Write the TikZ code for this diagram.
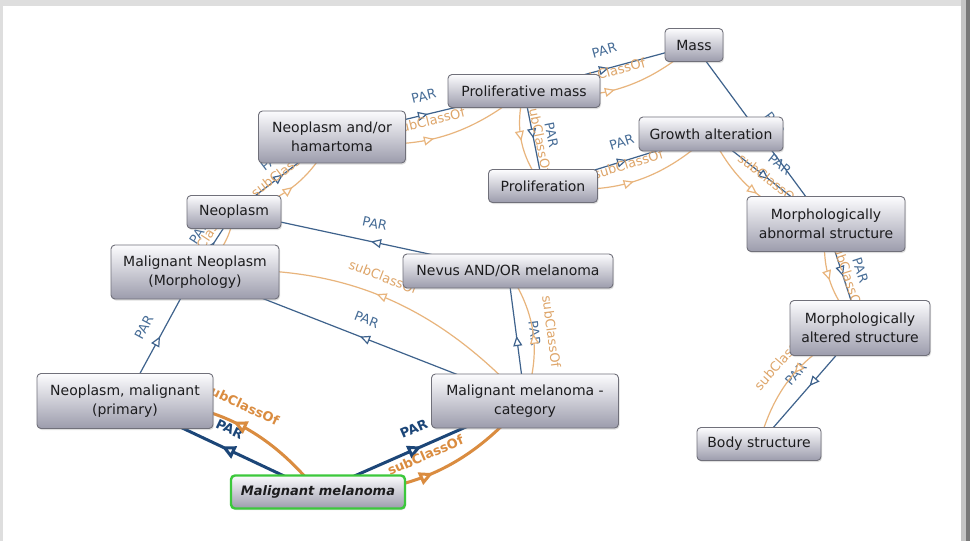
\documentclass[tikz,border=0pt]{standalone}
\usepackage{fontspec}
\setmainfont{DejaVu Sans}
\usetikzlibrary{arrows.meta,decorations.markings,shadows}
\pgfdeclarelayer{frame}
\pgfdeclarelayer{edges}
\pgfsetlayers{frame,edges,main}

\definecolor{parcol}{RGB}{62,98,140}
\definecolor{parBcol}{RGB}{28,70,120}
\definecolor{subcol}{RGB}{232,180,124}
\definecolor{subBcol}{RGB}{218,140,64}
\definecolor{parlbl}{RGB}{70,108,150}
\definecolor{sublbl}{RGB}{222,165,105}
\definecolor{boxline}{RGB}{112,112,122}
\definecolor{boxtop}{RGB}{252,252,254}
\definecolor{boxbot}{RGB}{156,156,172}
\definecolor{boxtext}{RGB}{28,28,30}
\definecolor{focusgreen}{RGB}{60,200,60}
\definecolor{framegray}{RGB}{222,222,222}
\definecolor{frameside}{RGB}{196,196,196}
\definecolor{framedark}{RGB}{120,120,120}

\tikzset{
  concept/.style={rectangle, rounded corners=4pt, draw=boxline, line width=0.9pt,
    top color=boxtop, bottom color=boxbot, align=center, inner sep=0pt,
    text=boxtext, font=\fontsize{14}{18.5}\selectfont,
    drop shadow={shadow xshift=1pt, shadow yshift=-1.5pt, opacity=0.25}},
  focus/.style={concept, draw=focusgreen, line width=2.4pt,
    font=\fontsize{13}{16}\selectfont\bfseries\itshape},
  par/.style={draw=parcol, line width=1.2pt,
    postaction={decorate, decoration={markings,
      mark=at position 0.5 with {\arrow{Triangle[length=10pt,width=9pt,fill=white]}}}}},
  sub/.style={draw=subcol, line width=1.2pt,
    postaction={decorate, decoration={markings,
      mark=at position 0.5 with {\arrow{Triangle[length=10pt,width=9pt,fill=white]}}}}},
  parB/.style={draw=parBcol, line width=3pt, line join=round,
    postaction={decorate, decoration={markings,
      mark=at position 0.5 with {\arrow{Triangle[length=14pt,width=13pt,fill=white]}}}}},
  subB/.style={draw=subBcol, line width=3pt, line join=round,
    postaction={decorate, decoration={markings,
      mark=at position 0.5 with {\arrow{Triangle[length=14pt,width=13pt,fill=white]}}}}},
  lblP/.style={sloped, above=13pt, inner sep=0pt, text=parlbl, font=\fontsize{13}{13}\selectfont},
  lblS/.style={sloped, above=13pt, inner sep=0pt, text=sublbl, font=\fontsize{13}{13}\selectfont},
  lblPB/.style={sloped, above=13pt, inner sep=0pt, text=parBcol, font=\fontsize{13}{13}\selectfont\bfseries},
  lblSB/.style={sloped, above=13pt, inner sep=0pt, text=subBcol, font=\fontsize{13}{13}\selectfont\bfseries},
  arc/.style={bend right=26}
}

\begin{document}
\begin{tikzpicture}[x=1pt, y=1pt]
\useasboundingbox (0,0) rectangle (970,-541);

% panel and window frame
\begin{pgfonlayer}{frame}
  \fill[white] (0,0) rectangle (970,-541);
  \fill[framegray] (0,0) rectangle (970,-6);
  \fill[framegray] (0,0) rectangle (3,-541);
  \fill[frameside] (961,0) rectangle (966,-541);
  \fill[framedark] (966,0) rectangle (970,-541);
\end{pgfonlayer}

% concepts
\node[concept, minimum width=58pt,  minimum height=33pt] (mass)   at (694,-45)  {Mass};
\node[concept, minimum width=152pt, minimum height=33pt] (pmass)  at (524,-91)  {Proliferative mass};
\node[concept, minimum width=147pt, minimum height=52pt] (nah)    at (332,-137) {Neoplasm and/or\\hamartoma};
\node[concept, minimum width=144pt, minimum height=34pt] (ga)     at (711,-134) {Growth alteration};
\node[concept, minimum width=109pt, minimum height=33pt] (prolif) at (543,-186) {Proliferation};
\node[concept, minimum width=94pt,  minimum height=33pt] (neo)    at (234,-212) {Neoplasm};
\node[concept, minimum width=158pt, minimum height=55pt] (mabs)   at (826,-224) {Morphologically\\abnormal structure};
\node[concept, minimum width=168pt, minimum height=54pt] (mnm)    at (195,-272) {Malignant Neoplasm\\(Morphology)};
\node[concept, minimum width=210pt, minimum height=34pt] (nevus)  at (508,-271) {Nevus AND/OR melanoma};
\node[concept, minimum width=140pt, minimum height=55pt] (malt)   at (860,-328) {Morphologically\\altered structure};
\node[concept, minimum width=176pt, minimum height=55pt] (nmp)    at (125,-401) {Neoplasm, malignant\\(primary)};
\node[concept, minimum width=187pt, minimum height=54pt] (mmc)    at (525,-401) {Malignant melanoma -\\category};
\node[concept, minimum width=124pt, minimum height=33pt] (body)   at (759,-444) {Body structure};
\node[focus,   minimum width=174pt, minimum height=33pt] (mm)     at (318,-492) {Malignant melanoma};

% relations, drawn behind the concepts
\begin{pgfonlayer}{edges}
  % relations of the focused concept
  \draw[parB] (mm.center) -- node[lblPB] (l1) {PAR} (nmp.center);
  \draw[subB] (mm.center) to[arc] node[lblSB] (l2) {subClassOf} (nmp.center);
  \draw[parB] (mm.center) -- node[lblPB] (l3) {PAR} (mmc.center);
  \draw[subB] (mm.center) to[arc] node[lblSB] (l4) {subClassOf} (mmc.center);

  % remaining hierarchy
  \draw[par] (nmp.center) -- node[lblP] (l5) {PAR} (mnm.center);
  \draw[par] (mmc.center) -- node[lblP] (l6) {PAR} (mnm.center);
  \draw[sub] (mmc.center) to[arc] node[lblS] (l7) {subClassOf} (mnm.center);
  \draw[par] (mmc.center) -- node[lblP] (l8) {PAR} (nevus.center);
  \draw[sub] (mmc.center) to[arc] node[lblS] (l9) {subClassOf} (nevus.center);
  \draw[par] (nevus.center) -- node[lblP] (l10) {PAR} (neo.center);
  \draw[par] (mnm.center) -- node[lblP] (l11) {PAR} (neo.center);
  \draw[sub] (mnm.center) to[arc] node[lblS] (l12) {subClassOf} (neo.center);
  \draw[par] (neo.center) -- node[lblP] (l13) {PAR} (nah.center);
  \draw[sub] (neo.center) to[arc] node[lblS] (l14) {subClassOf} (nah.center);
  \draw[par] (nah.center) -- node[lblP] (l15) {PAR} (pmass.center);
  \draw[sub] (nah.center) to[arc] node[lblS] (l16) {subClassOf} (pmass.center);
  \draw[par] (pmass.center) -- node[lblP] (l17) {PAR} (mass.center);
  \draw[sub] (pmass.center) to[arc] node[lblS] (l18) {subClassOf} (mass.center);
  \draw[par] (pmass.center) -- node[lblP] (l19) {PAR} (prolif.center);
  \draw[sub] (pmass.center) to[arc] node[lblS] (l20) {subClassOf} (prolif.center);
  \draw[par] (prolif.center) -- node[lblP] (l21) {PAR} (ga.center);
  \draw[sub] (prolif.center) to[arc] node[lblS] (l22) {subClassOf} (ga.center);
  \draw[par] (mass.center) -- node[lblP] (l23) {PAR} (mabs.center);
  \draw[par] (ga.center) -- node[lblP] (l24) {PAR} (mabs.center);
  \draw[sub] (ga.center) to[arc] node[lblS] (l25) {subClassOf} (mabs.center);
  \draw[par] (mabs.center) -- node[lblP] (l26) {PAR} (malt.center);
  \draw[sub] (mabs.center) to[arc] node[lblS] (l27) {subClassOf} (malt.center);
  \draw[par] (malt.center) -- node[lblP] (l28) {PAR} (body.center);
  \draw[sub] (malt.center) to[arc] node[lblS] (l29) {subClassOf} (body.center);
\end{pgfonlayer}
\end{tikzpicture}
\end{document}
